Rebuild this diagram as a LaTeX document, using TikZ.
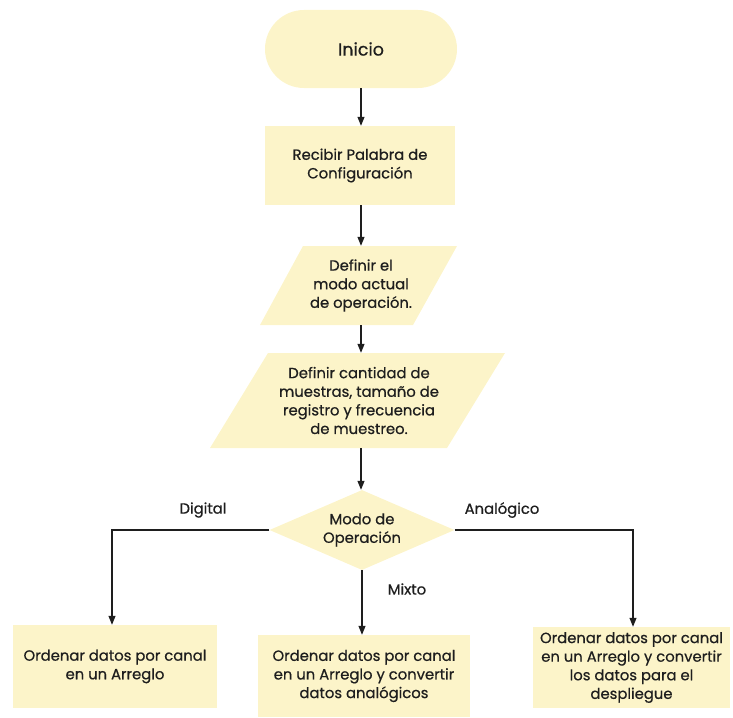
\documentclass[tikz,border=0pt]{standalone}
\usepackage{fontspec}
\setmainfont{Poppins}[FakeBold=0.6]
\usetikzlibrary{arrows.meta,shapes.geometric}
\definecolor{boxfill}{HTML}{FCF4C9}
\definecolor{ink}{HTML}{1E1E1E}
\tikzset{
  every node/.style={text=ink, font=\fontsize{14.8}{18.6}\selectfont, align=center, inner sep=0pt},
  boxnode/.style={rectangle, fill=boxfill},
  termnode/.style={rectangle, fill=boxfill, rounded corners=39pt, font=\fontsize{17.5}{20}\selectfont},
  decnode/.style={diamond, fill=boxfill, aspect=2.3},
  plain/.style={rectangle},
  conn/.style={draw=ink, line width=1.1pt, -{Triangle[length=9pt,width=7pt]}},
  lbl/.style={font=\fontsize{14.8}{16}\selectfont}
}
\begin{document}
\begin{tikzpicture}[x=1pt,y=-1pt]
\useasboundingbox (0,0) rectangle (733,717);
% terminal
\node[termnode, minimum width=192pt, minimum height=78pt] (ini) at (361,49) {Inicio};
% process
\node[boxnode, minimum width=190pt, minimum height=79pt] (rec) at (360,165.5) {Recibir Palabra de\\Configuración};
% parallelogram 1
\fill[boxfill] (303,246) -- (457,246) -- (413,325) -- (260,325) -- cycle;
\node[plain, minimum width=110pt, minimum height=79pt] (p1) at (361,285.5) {Definir el\\modo actual\\de operación.};
% parallelogram 2
\fill[boxfill] (268,353) -- (505,353) -- (447,448) -- (210,448) -- cycle;
\node[plain, minimum width=180pt, minimum height=95pt] (p2) at (359,400.5) {Definir cantidad de\\muestras, tamaño de\\registro y frecuencia\\de muestreo.};
% decision
\node[decnode, minimum width=185pt, minimum height=80pt] (dec) at (362,530) {Modo de\\Operación};
% outputs
\node[boxnode, minimum width=204pt, minimum height=83pt] (bl) at (115,666.5) {Ordenar datos por canal\\en un Arreglo};
\node[boxnode, minimum width=212pt, minimum height=82pt] (bm) at (364,676) {Ordenar datos por canal\\en un Arreglo y convertir\\datos analógicos};
\node[boxnode, minimum width=197pt, minimum height=81pt] (br) at (631.5,667.5) {Ordenar datos por canal\\en un Arreglo y convertir\\los datos para el\\despliegue};
% labels
\node[lbl] (ldig) at (203,510) {Digital};
\node[lbl] (lana) at (502,510) {Analógico};
\node[lbl] (lmix) at (407,589) {Mixto};
% connectors
\draw[conn] (ini.south) -- (ini.south |- rec.north);
\draw[conn] (ini.south |- rec.south) -- (ini.south |- p1.north);
\draw[conn] (ini.south |- p1.south) -- (ini.south |- p2.north);
\draw[conn] (ini.south |- p2.south) -- (ini.south |- dec.north);
\draw[conn] (dec.west) -| ([xshift=-3pt]bl.north);
\draw[conn] (dec.east) -| ([xshift=1.5pt]br.north);
\draw[conn] (dec.south) -- (dec.south |- bm.north);
\end{tikzpicture}
\end{document}
